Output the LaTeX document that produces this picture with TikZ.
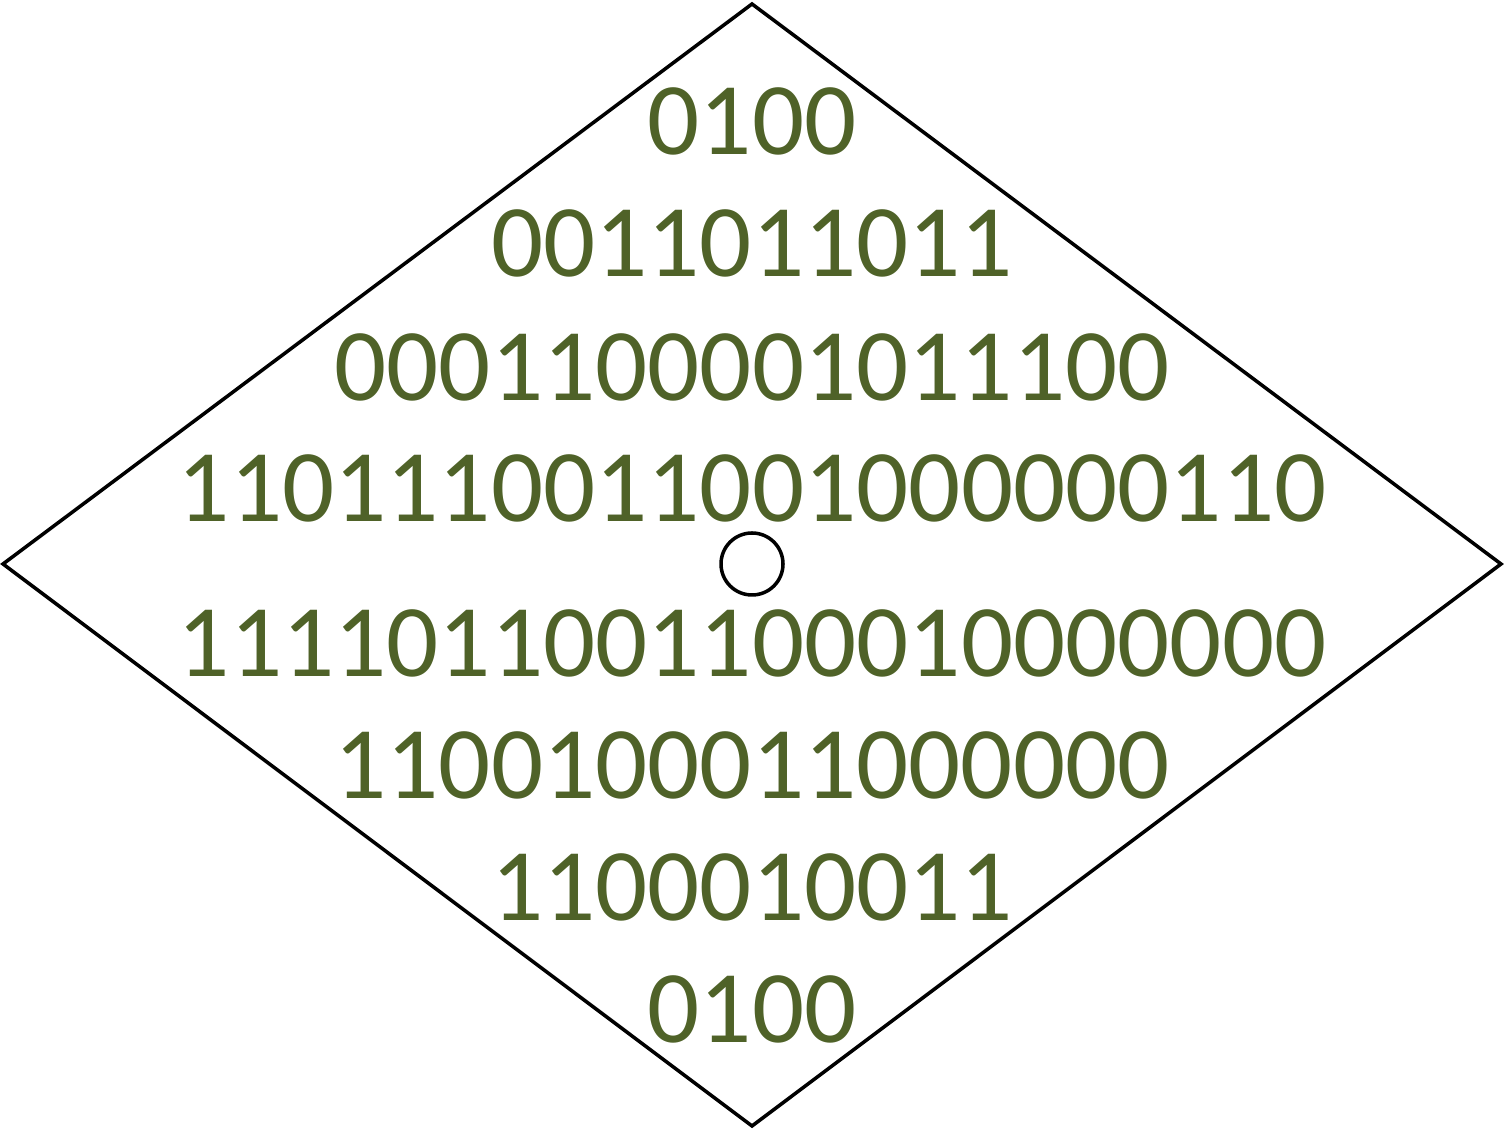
\documentclass[tikz,border=0pt]{standalone}
\usepackage{fontspec}
\setmainfont{Carlito}
\definecolor{bitgreen}{HTML}{4F6228}
\tikzset{bits/.style={text=bitgreen, font=\fontsize{29.3}{29.3}\selectfont, anchor=base, inner sep=0pt}}

\begin{document}
\begin{tikzpicture}
        \useasboundingbox (0, 0) rectangle (15.04, 11.32);
        \coordinate (west) at (0.03, 5.68);
        \coordinate (north) at (7.52, 11.28);
        \coordinate (east) at (15.01, 5.68);
        \coordinate (south) at (7.52, 0.06);
        \draw[line width=1pt] (west)--(north)--(east)--(south)--cycle;
        \node[circle, draw, line width=1pt, minimum size=0.62cm, inner sep=0pt] (hole) at (7.52, 5.68) {};
        \foreach \n/\y/\b in {1/9.77/0100, 2/8.55/0011011011, 3/7.31/0001100001011100,
                4/6.10/1101110011001000000110, 5/4.55/1111011001100010000000,
                6/3.33/1100100011000000, 7/2.11/1100010011, 8/0.89/0100}
        \node[bits] (row\n) at (7.52, \y) {\b};
        \end{tikzpicture}
\end{document}
